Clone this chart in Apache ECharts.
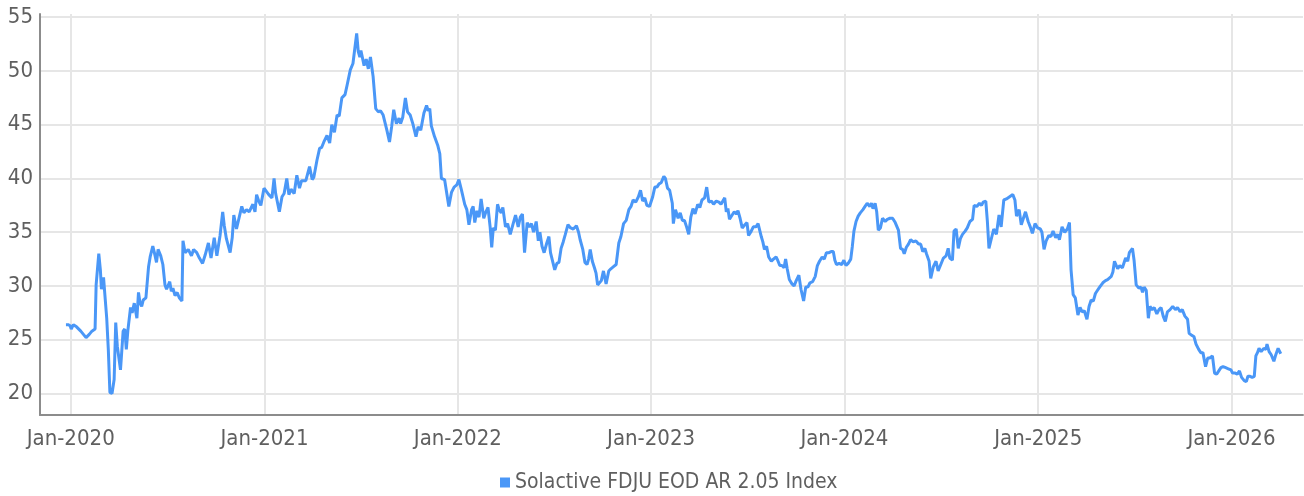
<!DOCTYPE html>
<html>
<head>
<meta charset="utf-8">
<script src="https://cdn.jsdelivr.net/npm/echarts@6/dist/echarts.min.js"></script>
<style>
    html, body { margin: 0; padding: 0; background: #fff; }
    #chart { width: 1304px; height: 496px; }
</style>
</head>
<body>
<div id="chart"></div>
<script>
    // values
    const seriesName = 'Solactive FDJU EOD AR 2.05 Index';
    const yTicks = [20, 25, 30, 35, 40, 45, 50, 55];
    const xTickYears = [2020, 2021, 2022, 2023, 2024, 2025, 2026];

    const dates = [
        '2019-12-23','2019-12-27','2019-12-31','2020-01-02','2020-01-06','2020-01-12','2020-01-20','2020-01-30',
        '2020-02-05','2020-02-10','2020-02-16','2020-02-18','2020-02-20','2020-02-23','2020-02-26','2020-02-28',
        '2020-03-03','2020-03-05','2020-03-09','2020-03-12','2020-03-15','2020-03-19','2020-03-23','2020-03-26',
        '2020-03-29','2020-04-01','2020-04-04','2020-04-09','2020-04-12','2020-04-15','2020-04-18','2020-04-23',
        '2020-04-26','2020-04-30','2020-05-05','2020-05-08','2020-05-11','2020-05-14','2020-05-17','2020-05-22',
        '2020-05-27','2020-05-30','2020-06-04','2020-06-07','2020-06-11','2020-06-14','2020-06-19','2020-06-23',
        '2020-06-27','2020-06-30','2020-07-06','2020-07-09','2020-07-12','2020-07-16','2020-07-20','2020-07-24',
        '2020-07-29','2020-07-31','2020-08-04','2020-08-10','2020-08-16','2020-08-20','2020-08-26','2020-08-31',
        '2020-09-06','2020-09-11','2020-09-17','2020-09-22','2020-09-28','2020-10-03','2020-10-09','2020-10-14',
        '2020-10-17','2020-10-21','2020-10-28','2020-11-01','2020-11-04','2020-11-09','2020-11-12','2020-11-19',
        '2020-11-23','2020-11-28','2020-12-03','2020-12-10','2020-12-14','2020-12-17','2020-12-21','2020-12-25',
        '2020-12-31',
        '2021-01-09','2021-01-15','2021-01-19','2021-01-22','2021-01-29','2021-02-03','2021-02-07','2021-02-12',
        '2021-02-16','2021-02-20','2021-02-26','2021-03-03','2021-03-08','2021-03-12','2021-03-20','2021-03-27',
        '2021-04-01','2021-04-04','2021-04-10','2021-04-15','2021-04-19','2021-04-23','2021-04-29','2021-05-04',
        '2021-05-08','2021-05-13','2021-05-18','2021-05-22','2021-05-27','2021-06-02','2021-06-06','2021-06-12',
        '2021-06-17','2021-06-24','2021-06-27','2021-06-30','2021-07-02','2021-07-08','2021-07-12','2021-07-16',
        '2021-07-20','2021-07-25','2021-07-28','2021-07-30','2021-08-04','2021-08-08','2021-08-13','2021-08-20',
        '2021-08-25','2021-08-29','2021-09-02','2021-09-07','2021-09-12','2021-09-15','2021-09-19','2021-09-24',
        '2021-09-28','2021-10-03','2021-10-08','2021-10-11','2021-10-14','2021-10-18','2021-10-23','2021-10-29',
        '2021-11-03','2021-11-06','2021-11-09','2021-11-12','2021-11-18','2021-11-24','2021-11-28','2021-12-01',
        '2021-12-07','2021-12-15','2021-12-20','2021-12-25','2021-12-30',
        '2022-01-03','2022-01-08','2022-01-14','2022-01-18','2022-01-22','2022-01-27','2022-01-30','2022-02-02',
        '2022-02-06','2022-02-10','2022-02-14','2022-02-19','2022-02-23','2022-02-27','2022-03-03','2022-03-06',
        '2022-03-09','2022-03-13','2022-03-17','2022-03-20','2022-03-24','2022-03-27','2022-04-01','2022-04-05',
        '2022-04-10','2022-04-15','2022-04-20','2022-04-25','2022-04-29','2022-05-03','2022-05-07','2022-05-12',
        '2022-05-16','2022-05-20','2022-05-24','2022-05-29','2022-06-02','2022-06-05','2022-06-09','2022-06-13',
        '2022-06-18','2022-06-22','2022-06-25','2022-07-03','2022-07-07','2022-07-11','2022-07-15','2022-07-19',
        '2022-07-23','2022-07-28','2022-08-02','2022-08-07','2022-08-13','2022-08-17','2022-08-20','2022-08-25',
        '2022-08-29','2022-09-02','2022-09-05','2022-09-08','2022-09-12','2022-09-16','2022-09-19','2022-09-22',
        '2022-09-29','2022-10-03','2022-10-08','2022-10-13','2022-10-17','2022-10-22','2022-10-27','2022-11-01',
        '2022-11-05','2022-11-10','2022-11-15','2022-11-20','2022-11-24','2022-11-28','2022-12-03','2022-12-08',
        '2022-12-12','2022-12-16','2022-12-20','2022-12-24','2022-12-29',
        '2023-01-04','2023-01-08','2023-01-12','2023-01-16','2023-01-20','2023-01-25','2023-01-28','2023-02-01',
        '2023-02-05','2023-02-10','2023-02-12','2023-02-16','2023-02-21','2023-02-25','2023-03-01','2023-03-05',
        '2023-03-09','2023-03-13','2023-03-17','2023-03-21','2023-03-25','2023-03-30','2023-04-03','2023-04-07',
        '2023-04-12','2023-04-16','2023-04-20','2023-04-25','2023-04-29','2023-05-04','2023-05-09','2023-05-13',
        '2023-05-20','2023-05-23','2023-05-26','2023-05-29','2023-06-03','2023-06-07','2023-06-11','2023-06-14',
        '2023-06-18','2023-06-22','2023-06-27','2023-07-01','2023-07-04','2023-07-08','2023-07-13','2023-07-18',
        '2023-07-22','2023-07-28','2023-07-31','2023-08-03','2023-08-07','2023-08-11','2023-08-16','2023-08-20',
        '2023-08-25','2023-08-28','2023-09-01','2023-09-05','2023-09-09','2023-09-12','2023-09-15','2023-09-19',
        '2023-09-24','2023-09-28','2023-10-02','2023-10-07','2023-10-11','2023-10-16','2023-10-20','2023-10-24',
        '2023-10-28','2023-11-02','2023-11-07','2023-11-11','2023-11-15','2023-11-20','2023-11-24','2023-11-28',
        '2023-12-03','2023-12-07','2023-12-11','2023-12-14','2023-12-17','2023-12-22','2023-12-27','2023-12-31',
        '2024-01-04','2024-01-08','2024-01-13','2024-01-16','2024-01-19','2024-01-23','2024-01-27','2024-01-31',
        '2024-02-05','2024-02-09','2024-02-13','2024-02-18','2024-02-21','2024-02-24','2024-02-28','2024-03-02',
        '2024-03-05','2024-03-09','2024-03-13','2024-03-18','2024-03-22','2024-03-27','2024-04-01','2024-04-06',
        '2024-04-12','2024-04-16','2024-04-20','2024-04-23','2024-04-27','2024-05-01','2024-05-05','2024-05-10',
        '2024-05-15','2024-05-20','2024-05-24','2024-05-28','2024-06-01','2024-06-04','2024-06-09','2024-06-12',
        '2024-06-17','2024-06-22','2024-06-26','2024-07-01','2024-07-06','2024-07-11','2024-07-15','2024-07-18',
        '2024-07-23','2024-07-26','2024-07-30','2024-08-03','2024-08-07','2024-08-11','2024-08-16','2024-08-20',
        '2024-08-25','2024-08-30','2024-09-02','2024-09-07','2024-09-12','2024-09-16','2024-09-19','2024-09-24',
        '2024-09-27','2024-09-30','2024-10-04','2024-10-09','2024-10-14','2024-10-19','2024-10-23','2024-10-28',
        '2024-11-02','2024-11-08','2024-11-14','2024-11-18','2024-11-21','2024-11-26','2024-11-30','2024-12-04',
        '2024-12-08','2024-12-13','2024-12-17','2024-12-21','2024-12-26','2024-12-31',
        '2025-01-05','2025-01-08','2025-01-12','2025-01-16','2025-01-21','2025-01-25','2025-01-29','2025-02-03',
        '2025-02-07','2025-02-10','2025-02-15','2025-02-20','2025-02-25','2025-03-01','2025-03-04','2025-03-08',
        '2025-03-12','2025-03-17','2025-03-21','2025-03-25','2025-03-29','2025-04-03','2025-04-07','2025-04-11',
        '2025-04-15','2025-04-19','2025-04-23','2025-04-27','2025-05-03','2025-05-08','2025-05-12','2025-05-19',
        '2025-05-22','2025-05-25','2025-05-28','2025-05-31','2025-06-04','2025-06-09','2025-06-15','2025-06-19',
        '2025-06-22','2025-06-25','2025-06-28','2025-07-01','2025-07-05','2025-07-10','2025-07-14','2025-07-17',
        '2025-07-20','2025-07-24','2025-07-28','2025-07-31','2025-08-04','2025-08-08','2025-08-13','2025-08-17',
        '2025-08-21','2025-08-25','2025-08-29','2025-09-02','2025-09-07','2025-09-12','2025-09-17','2025-09-21',
        '2025-09-26','2025-09-30','2025-10-05','2025-10-10','2025-10-13','2025-10-18','2025-10-22','2025-10-26',
        '2025-10-31','2025-11-04','2025-11-08','2025-11-13','2025-11-17','2025-11-21','2025-11-26','2025-11-30',
        '2025-12-04','2025-12-08','2025-12-12','2025-12-16','2025-12-21','2025-12-26','2025-12-31',
        '2026-01-03','2026-01-08','2026-01-12','2026-01-16','2026-01-20','2026-01-25','2026-01-29','2026-02-01',
        '2026-02-05','2026-02-09','2026-02-13','2026-02-16','2026-02-19','2026-02-22','2026-02-26','2026-03-03',
        '2026-03-07','2026-03-09','2026-03-13','2026-03-17','2026-03-22','2026-03-25','2026-03-30','2026-04-04'
    ];

    const values = [
        26.4,26.4,26.3,26.0,26.4,26.2,25.8,25.2,
        25.5,25.8,26.0,30.1,30.2,33.0,31.5,29.7,
        30.8,29.5,27.0,24.1,20.1,20.0,21.3,26.6,
        24.4,24.5,22.2,25.8,26.0,24.1,25.9,28.0,
        27.5,28.4,27.0,29.4,28.4,28.1,28.7,28.9,
        31.8,32.7,33.7,33.1,32.2,33.4,32.8,32.0,
        30.1,29.7,30.4,29.5,29.8,29.1,29.4,28.9,
        28.6,34.2,33.1,33.4,32.8,33.4,33.1,32.6,
        32.1,32.9,34.0,32.6,34.5,32.8,34.7,36.9,
        35.6,34.4,33.1,34.5,36.6,35.3,35.2,37.4,
        36.8,37.1,36.9,37.6,36.9,38.5,37.9,37.5,
        39.1,
        38.5,38.2,40.0,38.6,36.9,38.3,38.6,40.0,
        38.5,39.0,38.6,40.3,39.1,39.8,39.8,41.1,
        39.9,40.1,41.7,42.8,42.9,43.4,44.0,43.3,
        45.0,44.3,45.9,45.8,47.5,47.8,48.7,50.1,
        50.7,53.5,51.8,51.3,51.9,50.5,51.1,50.2,
        51.3,49.5,49.4,46.5,46.2,46.3,45.9,44.5,
        43.4,44.8,46.4,45.1,45.6,45.1,45.7,47.5,
        46.2,45.9,45.1,44.5,43.9,44.8,44.5,46.1,
        46.8,46.3,46.5,44.9,43.9,43.1,42.3,40.0,
        39.9,37.4,38.7,39.2,39.4,
        39.9,38.9,37.6,37.1,35.7,37.1,37.4,35.9,
        37.0,36.4,38.1,36.3,36.9,37.3,35.5,33.6,
        35.4,35.2,37.6,37.1,36.8,37.3,35.5,35.8,
        34.8,35.7,36.6,35.5,36.4,36.7,33.1,35.9,
        35.5,35.8,35.0,36.0,34.2,35.0,33.7,33.1,
        34.0,34.6,33.1,31.5,32.1,32.2,33.5,34.1,
        34.8,35.7,35.4,35.3,35.6,35.0,34.3,33.4,
        32.2,32.0,32.5,33.4,32.3,31.7,31.2,30.1,
        30.5,31.4,30.2,31.4,31.6,31.8,32.0,34.0,
        34.6,35.8,36.1,37.1,37.4,38.0,37.8,38.3,
        38.9,37.9,38.2,37.5,37.4,
        38.3,39.2,39.2,39.5,39.6,40.2,40.0,39.1,
        38.9,37.7,35.8,37.1,36.3,36.8,36.1,36.1,
        35.5,34.8,36.4,37.2,36.7,37.6,37.3,38.0,
        38.2,39.2,37.8,37.9,37.6,37.9,37.8,37.6,
        38.2,36.9,37.2,36.2,36.6,36.9,36.7,37.0,
        36.3,35.4,35.7,35.9,34.7,35.0,35.5,35.5,
        35.8,34.6,34.1,33.4,33.7,32.7,32.3,32.5,
        32.7,32.4,31.9,31.9,31.7,32.5,31.6,30.6,
        30.2,30.0,30.5,31.0,29.7,28.6,29.9,29.9,
        30.3,30.4,30.9,31.9,32.3,32.7,32.5,33.1,
        33.1,33.2,33.2,32.4,32.0,32.1,32.0,32.4,
        31.9,32.1,32.5,33.7,35.1,36.0,36.5,36.8,
        37.1,37.4,37.7,37.4,37.7,37.2,37.7,36.9,
        35.2,35.4,36.3,36.0,36.2,36.3,36.3,35.9,
        35.2,33.5,33.4,33.0,33.6,33.9,34.3,34.1,
        34.2,33.9,33.9,33.2,33.5,33.0,32.3,30.7,
        31.8,32.3,31.4,32.0,32.6,32.8,33.5,32.6,
        32.4,35.1,35.3,33.5,34.4,34.8,35.1,35.4,
        36.0,36.2,37.5,37.4,37.7,37.5,37.8,37.9,
        36.0,33.5,34.3,35.3,34.8,36.6,35.5,38.0,
        38.1,38.3,38.5,38.0,36.5,37.1,35.7,36.3,
        36.9,36.0,35.5,34.9,35.8,35.4,
        35.3,35.0,33.4,34.2,34.7,34.6,35.1,34.5,
        34.8,34.3,35.5,35.0,35.3,35.9,31.5,29.2,
        28.9,27.3,28.0,27.6,27.7,26.9,28.1,28.7,
        28.6,29.3,29.6,29.9,30.3,30.5,30.6,30.9,
        31.3,32.3,32.2,31.6,31.9,31.7,32.6,32.3,
        33.1,33.1,33.5,32.4,30.1,29.8,29.9,29.4,
        29.9,29.6,27.0,28.1,27.8,28.0,27.4,27.8,
        28.0,27.2,26.7,27.6,27.8,28.1,27.8,28.0,
        27.6,27.8,27.2,26.9,25.6,25.4,25.3,24.6,
        24.1,23.8,23.8,22.5,23.3,23.3,23.5,21.9,
        21.8,22.1,22.4,22.5,22.4,22.3,22.2,
        21.9,21.9,21.8,22.1,21.5,21.2,21.1,21.6,
        21.6,21.5,21.6,23.5,23.8,24.2,23.9,24.2,
        24.1,24.6,23.9,23.6,23.0,23.5,24.2,23.7
    ];

    const fontFamily = '"Liberation Sans Narrow", "DejaVu Sans Condensed", sans-serif';
    const textColor = '#5f5f5f';
    const gridColor = '#e6e6e6';
    const xTickValues = xTickYears.map(y => Date.UTC(y, 0, 1));

    const myChart = echarts.init(document.getElementById('chart'));
    const option = {
        animation: false,
        textStyle: { fontFamily: fontFamily },
        grid: { left: 40, right: 1, top: 14, bottom: 81, containLabel: false },
        legend: {
            data: [seriesName],
            left: 495,
            top: 467,
            icon: 'rect',
            itemWidth: 10,
            itemHeight: 10,
            itemGap: 5,
            textStyle: { fontFamily: fontFamily, fontSize: 21, color: textColor }
        },
        xAxis: {
            type: 'value',
            min: Date.parse('2019-11-04'),
            max: Date.parse('2026-05-16'),
            axisLine: { show: true, lineStyle: { color: '#8c8c8c', width: 2 } },
            axisTick: { show: false, customValues: xTickValues },
            axisLabel: {
                customValues: xTickValues,
                formatter: function (v) { return 'Jan-' + new Date(v).getUTCFullYear(); },
                fontFamily: fontFamily,
                fontSize: 22,
                color: textColor,
                margin: 13
            },
            splitLine: { show: true, lineStyle: { color: gridColor, width: 2 } }
        },
        yAxis: {
            type: 'value',
            min: 18,
            max: 55.3,
            axisLine: { show: true, lineStyle: { color: '#8c8c8c', width: 2 } },
            axisTick: { show: false, customValues: yTicks },
            axisLabel: {
                customValues: yTicks,
                fontFamily: fontFamily,
                fontSize: 22,
                color: textColor,
                margin: 7
            },
            splitLine: { show: true, lineStyle: { color: gridColor, width: 2 } }
        },
        series: [
            {
                name: seriesName,
                type: 'line',
                data: dates.map((d, i) => [Date.parse(d), values[i]]),
                showSymbol: false,
                symbol: 'none',
                lineStyle: { color: '#4a97f7', width: 3 },
                itemStyle: { color: '#4a97f7' }
            }
        ]
    };
    myChart.setOption(option);
</script>
</body>
</html>
